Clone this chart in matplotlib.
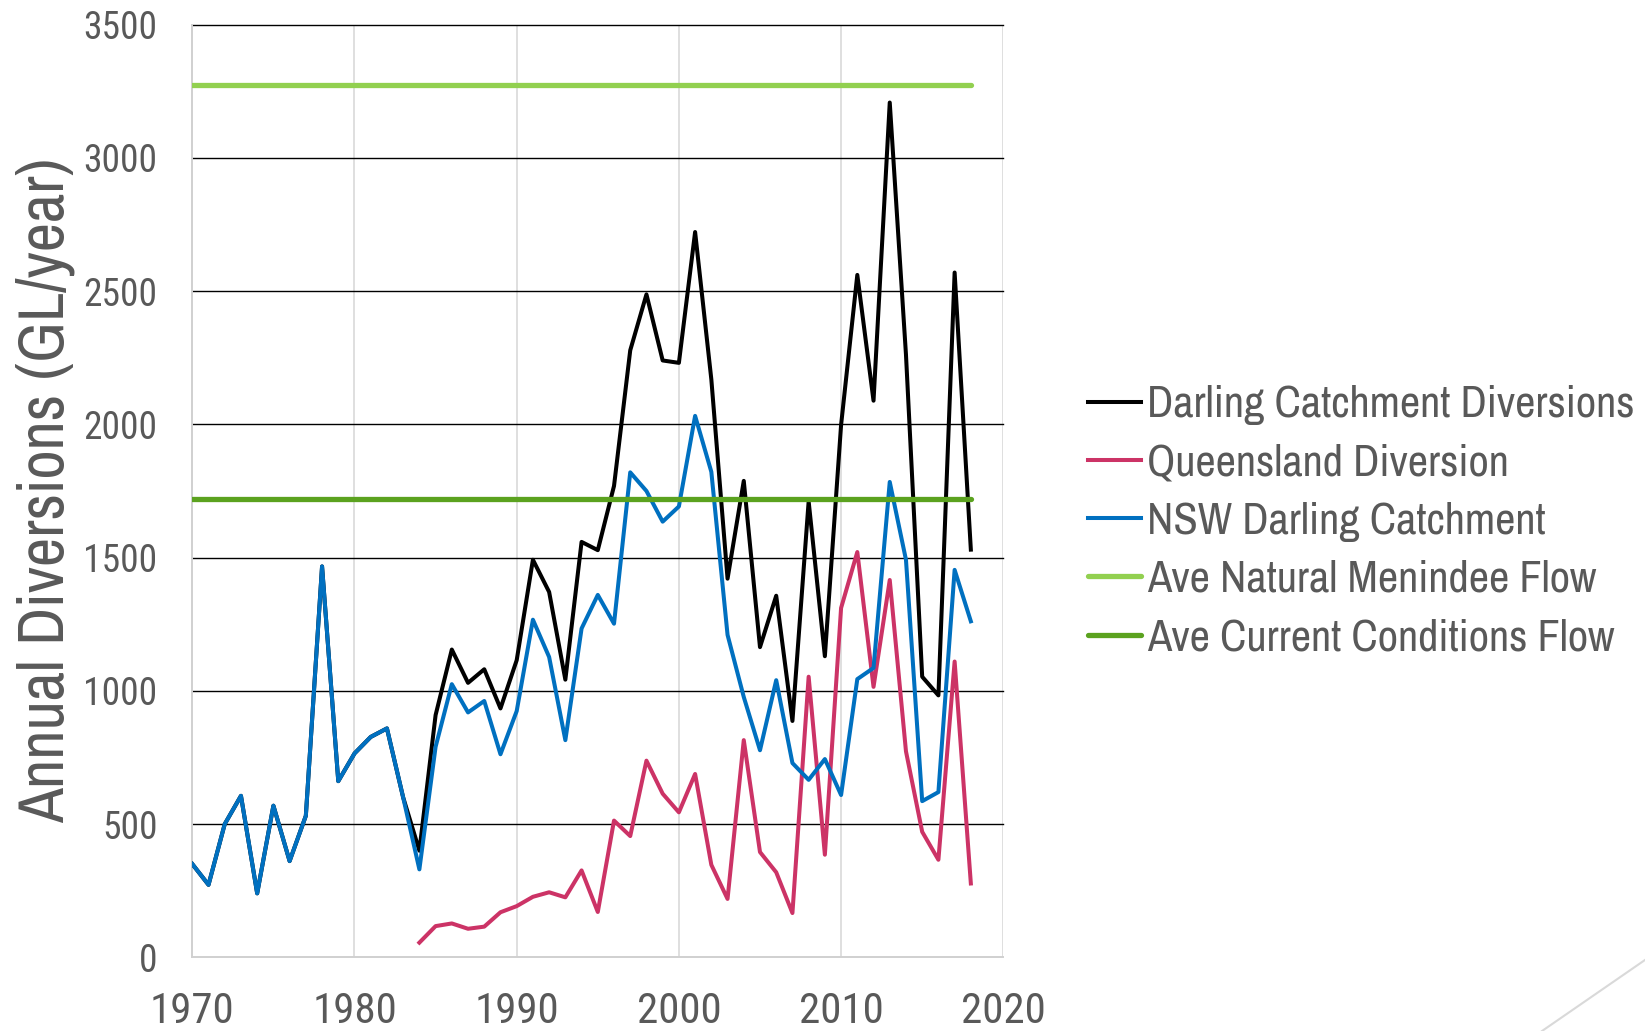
import numpy as np
import matplotlib
matplotlib.use("Agg")
import matplotlib.pyplot as plt
from matplotlib.lines import Line2D

# Annual diversions in the Darling catchment, GL/year
years = np.arange(1970, 2019)

nsw = [350, 272, 500, 606, 240, 569, 361, 531, 1467, 661,
       765, 827, 859, 600, 330, 790, 1025, 919, 962, 762,
       924, 1267, 1127, 815, 1234, 1360, 1252, 1820, 1750, 1635,
       1692, 2032, 1822, 1210, 977, 777, 1040, 729, 666, 744,
       609, 1044, 1086, 1784, 1492, 586, 620, 1454, 1261]

qld_years = np.arange(1984, 2019)
qld = [55, 117, 127, 107, 115, 169, 192, 227, 244, 225,
       326, 170, 513, 455, 738, 614, 544, 688, 347, 219,
       815, 395, 319, 166, 1053, 385, 1311, 1521, 1015, 1416,
       773, 471, 366, 1110, 277]

darling = [350, 272, 500, 606, 240, 569, 361, 531, 1467, 661,
           765, 827, 859, 600, 400, 909, 1155, 1030, 1081, 934,
           1115, 1492, 1371, 1042, 1559, 1528, 1769, 2278, 2488, 2240,
           2231, 2722, 2169, 1421, 1788, 1164, 1357, 887, 1711, 1130,
           1998, 2561, 2089, 3208, 2262, 1053, 983, 2570, 1530]

ave_natural = 3275
ave_current = 1720

names = ["Darling Catchment Diversions", "Queensland Diversion",
         "NSW Darling Catchment", "Ave Natural Menindee Flow",
         "Ave Current Conditions Flow"]

tick_font = "Roboto Condensed"
label_font = "Archivo Narrow"
txt_col = "#595959"

fig = plt.figure(figsize=(16.45, 10.31), dpi=100)
ax = fig.add_axes([0.1169, 0.0715, 0.6099 - 0.1169, 0.976 - 0.0715])

lw = 2.9
ax.plot(years, darling, color="black", lw=lw, label=names[0], zorder=3)
ax.plot(qld_years, qld, color="#cc3366", lw=lw, label=names[1], zorder=4)
ax.plot(years, nsw, color="#0070c0", lw=lw, label=names[2], zorder=5)
ax.plot([years[0], years[-1]], [ave_natural, ave_natural], color="#92d050",
        lw=3.8, solid_capstyle="round", label=names[3], zorder=6)
ax.plot([years[0], years[-1]], [ave_current, ave_current], color="#5ba21f",
        lw=3.8, solid_capstyle="round", label=names[4], zorder=6)

ax.set_xlim(1970, 2020)
ax.set_ylim(0, 3500)
ax.set_xticks(range(1970, 2021, 10))
ax.set_yticks(range(0, 3501, 500))

# black horizontal grid, pale vertical grid
for v in range(500, 3501, 500):
    ax.axhline(v, color="black", lw=1.0, zorder=1, clip_on=False)
for yr in range(1980, 2021, 10):
    ax.axvline(yr, color="#d9d9d9", lw=1.2, zorder=0.5)

for s in ["top", "right"]:
    ax.spines[s].set_visible(False)
for s in ["left", "bottom"]:
    ax.spines[s].set_color("#d0d0d0")
    ax.spines[s].set_linewidth(1.4)

ax.tick_params(length=0, colors=txt_col)
ax.tick_params(axis="y", pad=25)
ax.tick_params(axis="x", pad=24)
for lab in ax.get_yticklabels():
    lab.set_fontfamily(tick_font)
    lab.set_fontsize(27)
for lab in ax.get_xticklabels():
    lab.set_fontfamily(tick_font)
    lab.set_fontsize(31)

fig.text(45 / 1645, 0.524, "Annual Diversions (GL/year)", rotation=90,
         ha="center", va="center", fontsize=46, family=label_font,
         color=txt_col)

leg = fig.legend(loc="center left", bbox_to_anchor=(1088 / 1645, 0.494),
                 frameon=False, borderpad=0, borderaxespad=0,
                 handlelength=1.19, handletextpad=0.14, labelspacing=0.41,
                 prop={"family": label_font, "size": 32})
for t in leg.get_texts():
    t.set_color(txt_col)

# slide corner decoration
fig.add_artist(Line2D([0.9374, 1.0], [0.0, 0.0689], color="#d9d9d9", lw=1.5,
                      transform=fig.transFigure))

fig.savefig("out.png", dpi=100)
